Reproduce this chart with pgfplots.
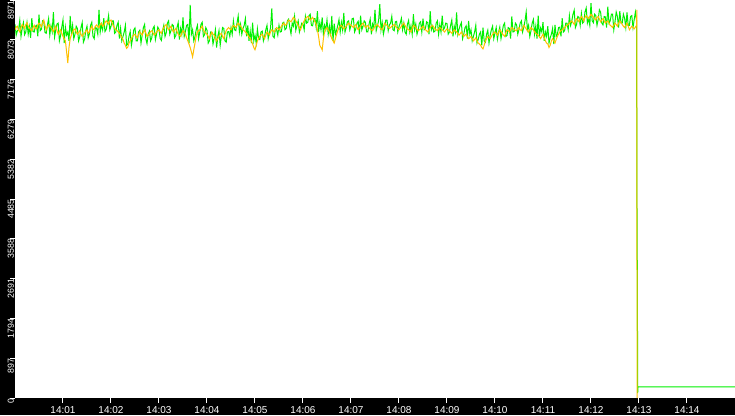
\documentclass[border=0pt]{standalone}
\usepackage{pgfplots}
\pgfplotsset{compat=1.18}
\usepackage{pgfplotstable}
\usepackage{fontspec}
\setmainfont{Liberation Sans}
\definecolor{lgreen}{RGB}{0,240,0}
\definecolor{amber}{RGB}{255,192,0}
\pgfplotstableread{
g o
8420 8300
8180 8360
8280 8380
8300 8290
8510 8250
8150 8350
8330 8420
8460 8380
8190 8330
8250 8420
8460 8460
8200 8380
8370 8350
8120 8300
8560 8280
8260 8350
8250 8400
8380 8330
8400 8320
8150 8400
8640 8450
8280 8420
8310 8370
8500 8450
8480 8520
8240 8400
8220 8300
8400 8360
8550 8410
8180 8380
8390 8350
8260 8300
8700 8260
8140 8320
8300 8380
8430 8280
8450 8200
8050 8260
8170 8300
8360 8220
8520 8150
8000 8100
8360 8050
8180 7800
8250 7550
8050 7900
8610 8100
8200 8180
8400 8250
8100 8300
8200 8320
8380 8250
8330 8200
8050 8240
8150 8280
8350 8200
8460 8150
8020 8200
8090 8230
8280 8270
8380 8300
8120 8220
8210 8250
8400 8330
8470 8380
8150 8300
8100 8320
8360 8380
8330 8410
8200 8370
8750 8350
8250 8420
8420 8450
8300 8380
8560 8400
8260 8460
8310 8500
8450 8470
8620 8430
8300 8500
8380 8520
8500 8450
8500 8380
8220 8350
8250 8300
8400 8280
8470 8250
8100 8220
8330 8180
8050 8120
8150 8080
8250 8000
8400 7950
7950 7880
7980 7910
8150 8000
8260 8050
7950 8100
8110 8150
8300 8180
8340 8200
8050 8150
8050 8120
8250 8200
8290 8250
8000 8220
8180 8180
8350 8250
8420 8300
8100 8230
7990 8150
8200 8180
8270 8220
8050 8260
8120 8280
8330 8230
8380 8180
8080 8210
8210 8250
8360 8280
8310 8300
8100 8250
8060 8220
8280 8300
8400 8350
8150 8390
8230 8420
8450 8350
8500 8300
8200 8340
8280 8380
8420 8300
8390 8250
8120 8290
8170 8330
8350 8260
8460 8200
8080 8170
8330 8150
8200 8220
8580 8280
8150 8250
8260 8200
8400 8120
8420 8050
8000 7980
8860 7900
8200 7800
8300 7690
8050 7850
8150 8000
8300 8150
8400 8250
8100 8280
8250 8300
8420 8340
8470 8380
8150 8300
8190 8250
8350 8220
8290 8200
8000 8150
8050 8100
8250 8180
8240 8250
7980 8200
8110 8180
8300 8100
7900 8050
8150 8100
8280 8150
7950 8200
8170 8220
8350 8150
8330 8100
8050 8200
8020 8280
8250 8320
8260 8350
8150 8320
8350 8300
8200 8360
8500 8400
8300 8380
8280 8350
8450 8400
8610 8450
8250 8420
8420 8380
8200 8340
8330 8300
8400 8280
8550 8250
8150 8220
8400 8180
8050 8140
8270 8100
8000 8050
8460 7980
8050 7900
8180 7850
8000 7950
8320 8050
8100 8100
8080 8150
8250 8180
8270 8200
8050 8150
8150 8100
8300 8180
8400 8250
8100 8220
8230 8180
8350 8250
8780 8300
8150 8280
8120 8250
8320 8300
8300 8350
8180 8330
8400 8300
8250 8340
8260 8380
8450 8420
8470 8450
8300 8400
8330 8420
8500 8470
8540 8520
8350 8500
8210 8480
8450 8530
8380 8580
8600 8550
8290 8500
8400 8450
8500 8400
8250 8350
8350 8300
8450 8380
8430 8450
8300 8500
8600 8550
8450 8580
8470 8600
8620 8560
8650 8520
8400 8550
8390 8580
8550 8530
8550 8480
8350 8420
8720 8300
8250 8150
8460 7950
8300 7900
8580 7844
8200 8100
8400 8250
8300 8320
8520 8350
8200 8300
8380 8250
8150 8180
8610 8100
8050 8050
8440 8000
8200 8100
8290 8200
8400 8280
8530 8350
8250 8380
8470 8400
8300 8360
8680 8320
8250 8350
8350 8380
8480 8420
8500 8450
8300 8420
8400 8400
8550 8380
8560 8350
8250 8390
8320 8420
8450 8350
8490 8300
8200 8340
8620 8380
8300 8420
8380 8450
8500 8400
8470 8350
8250 8380
8250 8400
8420 8350
8540 8320
8200 8300
8430 8280
8350 8330
8750 8380
8280 8400
8390 8420
8500 8380
8880 8350
8300 8320
8460 8300
8200 8380
8330 8450
8520 8420
8520 8400
8280 8360
8410 8330
8450 8350
8600 8380
8300 8400
8280 8420
8480 8380
8490 8350
8250 8320
8370 8300
8450 8340
8560 8380
8300 8420
8450 8450
8250 8400
8200 8350
8420 8320
8510 8300
8250 8280
8390 8250
8200 8330
8650 8400
8300 8380
8430 8350
8200 8310
8300 8280
8450 8300
8480 8320
8250 8350
8550 8380
8300 8340
8330 8300
8480 8280
8460 8250
8200 8300
8720 8350
8300 8380
8380 8400
8250 8360
8270 8320
8450 8300
8500 8280
8200 8320
8410 8350
8250 8330
8620 8300
8300 8280
8350 8250
8450 8290
8440 8320
8200 8300
8250 8280
8400 8250
8520 8220
8150 8260
8380 8300
8250 8280
8690 8250
8200 8220
8310 8180
8400 8210
8460 8250
8100 8200
8200 8150
8350 8180
8390 8200
8100 8150
8500 8100
8200 8120
8300 8150
8050 8100
8150 8050
8250 8080
8400 8120
8000 8050
8080 8000
8200 7980
8250 7950
7950 7900
8350 7870
8050 7950
8020 8050
8200 8100
8290 8150
8000 8120
8180 8100
8300 8150
8380 8200
8100 8230
8230 8250
8350 8220
8090 8180
8250 8240
8360 8300
8100 8260
8250 8220
8400 8180
8450 8150
8150 8230
8170 8300
8350 8280
8330 8250
8100 8300
8600 8350
8250 8330
8260 8300
8450 8290
8410 8280
8200 8320
8310 8350
8450 8300
8500 8280
8250 8340
8360 8400
8500 8360
8700 8320
8300 8280
8400 8250
8150 8300
8280 8350
8450 8320
8530 8300
8200 8250
8390 8220
8100 8200
8620 8180
8150 8140
8340 8100
8250 8150
8470 8200
8050 8120
8250 8050
8150 8000
8380 7980
8000 7900
8120 7950
8200 8050
8330 8100
7980 8050
8410 8000
8150 8080
8200 8150
8350 8200
8360 8250
8150 8280
8560 8300
8250 8320
8280 8350
8450 8380
8450 8400
8300 8420
8620 8450
8400 8480
8500 8500
8650 8460
8740 8420
8350 8500
8420 8550
8600 8520
8580 8480
8400 8550
8670 8600
8450 8560
8480 8500
8700 8580
8790 8620
8450 8580
8550 8550
8400 8600
8900 8650
8500 8620
8460 8580
8650 8550
8620 8520
8400 8580
8530 8600
8750 8540
8700 8480
8450 8520
8410 8550
8600 8500
8590 8450
8350 8480
8820 8500
8450 8450
8500 8400
8650 8380
8650 8350
8300 8400
8480 8450
8700 8420
8600 8380
8350 8450
8720 8500
8450 8460
8450 8420
8650 8380
8560 8350
8350 8400
8690 8450
8400 8380
8400 8300
8600 8340
8620 8380
8350 8350
8530 8320
8700 8360
8500 8400
}\datatable
\begin{document}
\begin{tikzpicture}[x=1pt,y=1pt]
\fill[black] (0,0) rectangle (551.25,311.25);
\begin{axis}[
  at={(11.25pt,12.75pt)}, anchor=south west,
  scale only axis, width=540pt, height=298.5pt,
  xmin=0, xmax=900, ymin=0, ymax=8971,
  axis background/.style={fill=white},
  axis line style={draw=none},
  xtick={60,120,180,240,300,360,420,480,540,600,660,720,780,840},
  xticklabels={14:01,14:02,14:03,14:04,14:05,14:06,14:07,14:08,14:09,14:10,14:11,14:12,14:13,14:14},
  ytick={0,897,1794,2691,3588,4485,5382,6279,7176,8073,8971},
  yticklabels={0,897,1794,2691,3588,4485,5382,6279,7176,8073,8971},
  xtick pos=left, ytick pos=left,
  tick align=outside,
  major tick length=3.75pt,
  tick style={white, line width=0.75pt},
  ticklabel style={text=white, inner sep=0pt},
  xticklabel style={anchor=north, yshift=-2.8pt, font=\fontsize{7.5pt}{8pt}\selectfont},
  yticklabel style={rotate=90, anchor=east, yshift=-0.6pt, font=\fontsize{6.6pt}{7pt}\selectfont},
  clip=true,
]
\addplot[lgreen, line width=0.75pt, mark=none] table[x expr=\coordindex*1.5, y=g] {\datatable};
\addplot[lgreen, line width=0.75pt, mark=none] coordinates {(777,8500) (777.4,4350) (777.6,4200) (778.4,110) (778.6,250) (900,250)};
\addplot[amber, line width=0.75pt, mark=none] table[x expr=\coordindex*1.5, y=o] {\datatable};
\addplot[amber, line width=0.75pt, mark=none] coordinates {(777,8400) (777.3,8750) (777.6,0)};
\end{axis}
\pgfresetboundingbox
\useasboundingbox (0,0) rectangle (551.25,311.25);
\end{tikzpicture}
\end{document}
